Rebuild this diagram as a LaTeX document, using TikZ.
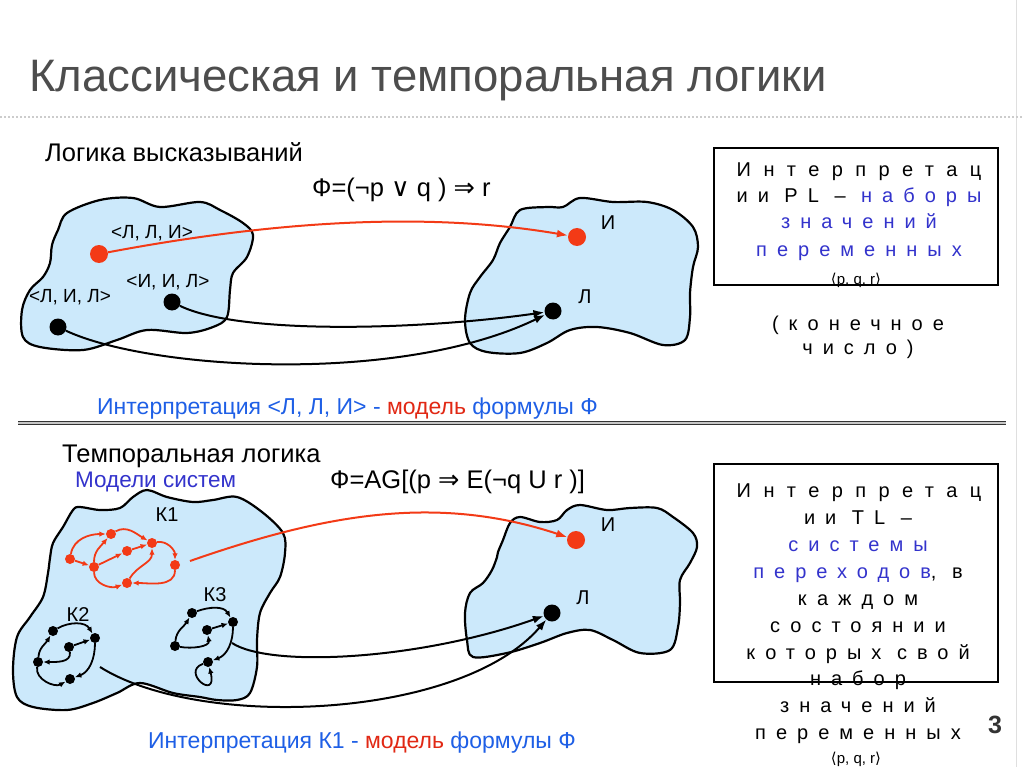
\documentclass[tikz,border=0pt]{standalone}
\usepackage{fontspec}
\setmainfont{Liberation Sans}
\newfontfamily\symfont{DejaVu Sans}
\newfontfamily\spaced[LetterSpace=50]{Liberation Sans}
\newfontfamily\spacedwide[LetterSpace=62]{Liberation Sans}
\usetikzlibrary{arrows.meta}
\definecolor{blobblue}{RGB}{204,233,251}
\definecolor{dotred}{RGB}{243,58,22}
\definecolor{capblue}{RGB}{30,95,230}
\definecolor{capred}{RGB}{225,40,20}
\definecolor{titlegray}{RGB}{77,77,77}
\definecolor{tblue}{RGB}{51,51,204}
\begin{document}
\begin{tikzpicture}[x=1pt,y=1pt,
  blob/.style={draw=black, line width=2.2pt, fill=blobblue, line join=round},
  rdot/.style={circle, fill=dotred, inner sep=0, minimum size=18pt},
  bdot/.style={circle, fill=black, inner sep=0, minimum size=17pt},
  rsm/.style={circle, fill=dotred, inner sep=0, minimum size=10pt},
  bsm/.style={circle, fill=black, inner sep=0, minimum size=10pt},
  conn/.style={line width=2pt, -{Latex[length=11pt,width=8pt]}},
  kblk/.style={line width=1.8pt, -{Latex[length=6.5pt,width=5.5pt]}},
  kred/.style={kblk, color=dotred},
  lbl/.style={font=\fontsize{19}{21}\selectfont, inner sep=0},
  vlbl/.style={font=\fontsize{20}{22}\selectfont, inner sep=0},
  head/.style={font=\fontsize{25.5}{28}\selectfont, inner sep=0, anchor=base west},
  formula/.style={font=\fontsize{25.5}{28}\selectfont, inner sep=0, anchor=base west},
  captxt/.style={font=\fontsize{23}{26}\selectfont, inner sep=0, anchor=base west, text=capblue},
  btxt/.style={font=\spaced\fontsize{20}{22}\selectfont, inner sep=0, anchor=base},
  btxtw/.style={font=\spacedwide\fontsize{20}{22}\selectfont, inner sep=0, anchor=base},
  ptxt/.style={font=\fontsize{15}{17}\selectfont, inner sep=0, anchor=base}
]
\useasboundingbox (0,0) rectangle (1024,-767);
\fill[white] (0,0) rectangle (1024,-767);
\draw[gray!25, line width=1pt] (1016,0) -- (1016,-767);

% title
\node[font=\fontsize{45.5}{50}\selectfont, text=titlegray, inner sep=0, anchor=base west] (title) at (29,-92) {Классическая и темпоральная логики};
\draw[gray!40, line width=1.5pt, dash pattern=on 2pt off 2pt] (0,-117) -- (1024,-117);

% ---------- upper part ----------
\node[head] (hpl) at (45,-162) {Логика высказываний};
\node[formula] (fpl) at (312,-197) {Ф=(¬p {\symfont ∨} q ) {\symfont ⇒} r};

\draw[blob] plot[smooth cycle, tension=0.55] coordinates {
 (52,-245) (58,-230) (67,-213) (100,-200) (133,-198) (160,-207) (200,-202) (220,-210) (243,-223) (253,-235) (247,-257) (233,-273) (230,-290) (227,-317) (213,-327) (187,-333) (147,-330) (117,-340) (83,-350) (40,-347) (23,-337) (22,-310) (30,-290) (43,-277) (50,-263)};
\draw[blob] plot[smooth cycle, tension=0.55] coordinates {
 (500,-243) (510,-227) (520,-210) (547,-207) (563,-207) (580,-198) (613,-202) (647,-202) (673,-210) (693,-227) (698,-247) (693,-267) (690,-293) (690,-317) (685,-340) (663,-345) (630,-333) (597,-327) (570,-330) (547,-343) (520,-353) (487,-352) (470,-343) (465,-320) (470,-293) (480,-277) (493,-260)};

\node[rdot] (lli) at (99,-254) {};
\node[bdot] (iil) at (172,-302) {};
\node[bdot] (lil) at (58,-327) {};
\node[lbl] (llil) at (152,-233) {<Л, Л, И>};
\node[lbl] (iill) at (168,-282) {<И, И, Л>};
\node[lbl] (lill) at (70,-297) {<Л, И, Л>};

\node[rdot] (ti) at (577,-237) {};
\node[bdot] (tl) at (553,-311) {};
\node[vlbl] (til) at (608,-223) {И};
\node[vlbl] (tll) at (585,-297) {Л};

\draw[conn, color=dotred] (lli) .. controls (280,-220) and (430,-212) .. (ti);
\draw[conn] (iil) .. controls (240,-335) and (420,-330) .. (tl);
\draw[conn] (lil) .. controls (150,-370) and (400,-385) .. (tl);

% box 1
\draw[line width=2pt] (714,-148) rectangle (998,-285);
\node[btxtw] (b1a) at (859,-177) {Интерпретац};
\node[btxt] (b1b) at (859,-203) {ии PL – \textcolor{tblue}{наборы}};
\node[btxt, text=tblue] (b1c) at (859,-229) {значений};
\node[btxt, text=tblue] (b1d) at (859,-256) {переменных};
\node[ptxt] (b1e) at (856,-284) {{\symfont ⟨}p, q, r{\symfont ⟩}};
\node[btxt] (b1f) at (858,-330) {(конечное};
\node[btxt] (b1g) at (858,-354) {число)};

\node[captxt] (cap1) at (97,-414) {Интерпретация <Л, Л, И> - \textcolor{capred}{модель} формулы Ф};
\draw[double=gray!45, double distance=2pt, line width=1.3pt, color=black!80] (18,-423) -- (1006,-423);

% ---------- lower part ----------
\node[head] (htl) at (62,-462) {Темпоральная логика};
\node[font=\fontsize{22.5}{25}\selectfont, text=tblue, inner sep=0, anchor=base west] (models) at (75,-487) {Модели систем};
\node[formula] (ftl) at (330,-488) {Ф=AG[(p {\symfont ⇒} E(¬q U r )]};

\draw[blob] plot[smooth cycle, tension=0.55] coordinates {
 (50,-558) (53,-543) (63,-527) (73,-510) (80,-507) (100,-510) (120,-508) (133,-497) (147,-490) (167,-497) (193,-502) (213,-500) (237,-497) (262,-512) (283,-533) (285,-553) (280,-577) (270,-593) (260,-613) (257,-640) (257,-667) (250,-693) (237,-700) (217,-700) (200,-697) (173,-693) (140,-683) (117,-693) (93,-703) (67,-710) (33,-707) (17,-697) (13,-670) (17,-637) (30,-617) (43,-597) (48,-573)};
\draw[blob] plot[smooth cycle, tension=0.55] coordinates {
 (498,-552) (503,-540) (510,-523) (520,-517) (540,-522) (557,-520) (567,-510) (580,-505) (607,-510) (630,-508) (657,-508) (673,-517) (693,-533) (697,-547) (690,-563) (680,-580) (680,-603) (678,-627) (670,-650) (640,-653) (613,-640) (590,-630) (567,-633) (540,-643) (507,-653) (473,-657) (467,-640) (465,-613) (470,-593) (483,-583) (492,-570) (497,-557)};

\node[vlbl] (k1l) at (167,-515) {К1};
\node[vlbl] (k2l) at (78,-615) {К2};
\node[vlbl] (k3l) at (215,-595) {К3};

% K1
\node[rsm] (a) at (70,-559) {};
\node[rsm] (b) at (94,-567) {};
\node[rsm] (c) at (111,-534) {};
\node[rsm] (d) at (127,-551) {};
\node[rsm] (e) at (152,-543) {};
\node[rsm] (f) at (175,-565) {};
\node[rsm] (g) at (127,-583) {};
\draw[kred] (a) -- (b);
\draw[kred] (a) to[out=80,in=180] (c);
\draw[kred] (b) to[out=90,in=230] (c);
\draw[kred] (b) -- (d);
\draw[kred] (c) to[out=30,in=150] (e);
\draw[kred] (d) -- (e);
\draw[kred] (e) to[out=10,in=90] (f);
\draw[kred] (f) to[out=-90,in=0] (g);
\draw[kred] (b) to[out=-90,in=200] (g);
\draw[kred] (g) to[out=60,in=-90] (e);

% K2
\node[bsm] (p) at (53,-631) {};
\node[bsm] (q) at (95,-638) {};
\node[bsm] (r) at (69,-647) {};
\node[bsm] (s) at (38,-662) {};
\node[bsm] (t) at (70,-679) {};
\draw[kblk] (p) to[out=30,in=120] (q);
\draw[kblk] (r) -- (q);
\draw[kblk] (s) to[out=85,in=-120] (p);
\draw[kblk] (r) to[out=-80,in=0] (s);
\draw[kblk] (q) to[out=-90,in=20] (t);
\draw[kblk] (s) to[out=-100,in=210] (t);

% K3
\node[bsm] (u) at (192,-613) {};
\node[bsm] (v) at (233,-622) {};
\node[bsm] (w) at (207,-630) {};
\node[bsm] (x) at (175,-646) {};
\node[bsm] (y) at (208,-662) {};
\draw[kblk] (u) to[out=20,in=120] (v);
\draw[kblk] (w) -- (v);
\draw[kblk] (x) to[out=85,in=-120] (u);
\draw[kblk] (x) to[out=-10,in=-80] (w);
\draw[kblk] (v) to[out=-90,in=20] (y);
\draw[kblk] (y) .. controls (180,-672) and (218,-702) .. (y);

% right blob dots
\node[rdot] (ti2) at (576,-540) {};
\node[bdot] (tl2) at (552,-613) {};
\node[vlbl] (til2) at (608,-525) {И};
\node[vlbl] (tll2) at (583,-598) {Л};

\coordinate (k1out) at (190,-561);
\coordinate (k3out) at (232,-643);
\coordinate (k2out) at (100,-667);
\draw[conn, color=dotred] (k1out) .. controls (330,-512) and (440,-495) .. (ti2);
\draw[conn] (k3out) .. controls (270,-668) and (420,-660) .. (tl2);
\draw[conn] (k2out) .. controls (200,-730) and (460,-720) .. (tl2);

% box 2
\draw[line width=2pt] (714,-464) rectangle (998,-682);
\node[btxtw] (b2a) at (859,-497) {Интерпретац};
\node[btxt] (b2b) at (858,-524) {ии TL –};
\node[btxt, text=tblue] (b2c) at (858,-551) {системы};
\node[btxt] (b2d) at (858,-578) {\textcolor{tblue}{переходов}, в};
\node[btxt] (b2e) at (858,-605) {каждом};
\node[btxt] (b2f) at (858,-632) {состоянии};
\node[btxt] (b2g) at (858,-659) {которых свой};
\node[btxt] (b2h) at (858,-685) {набор};
\node[btxt] (b2i) at (858,-712) {значений};
\node[btxt] (b2j) at (858,-739) {переменных};
\node[ptxt] (b2k) at (856,-763) {{\symfont ⟨}p, q, r{\symfont ⟩}};

\node[captxt] (cap2) at (148,-748) {Интерпретация К1 - \textcolor{capred}{модель} формулы Ф};
\node[font=\bfseries\fontsize{25}{28}\selectfont, text=black!80, inner sep=0] (pnum) at (995,-725) {3};
\end{tikzpicture}
\end{document}
